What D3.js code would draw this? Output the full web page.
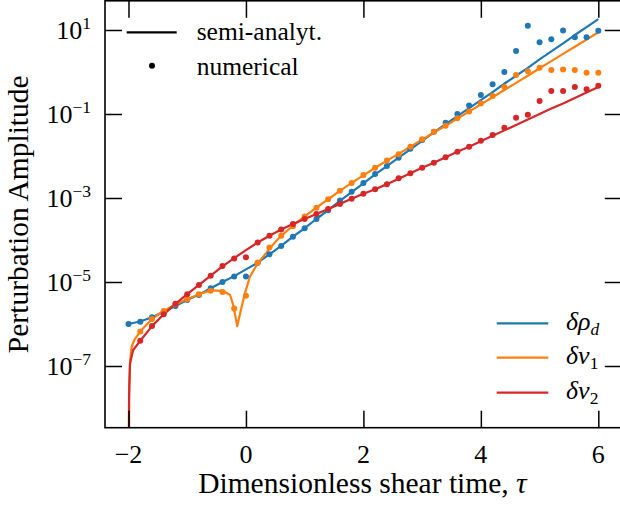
<!DOCTYPE html>
<html>
<head>
<meta charset="utf-8">
<script src="https://cdn.jsdelivr.net/npm/d3@7"></script>
<style>
  html, body { margin: 0; padding: 0; background: #fff; }
  svg { display: block; }
</style>
</head>
<body>
<svg id="chart" width="620" height="509"></svg>
<script>
// ---------- data (log10 of amplitude) ----------
const tauNum = [-2, -1.8, -1.6, -1.4, -1.2, -1, -0.8, -0.6, -0.4, -0.2, 0, 0.2, 0.4, 0.6, 0.8, 1, 1.2, 1.4, 1.6, 1.8,
  2, 2.2, 2.4, 2.6, 2.8, 3, 3.2, 3.4, 3.6, 3.8, 4, 4.2, 4.4, 4.6, 4.8, 5, 5.2, 5.4, 5.6, 5.8, 6];

const rhoNumLog = [-6.00, -5.945, -5.84, -5.71, -5.57, -5.43, -5.31, -5.15, -5.00, -4.87, -4.87, -4.54, -4.34, -4.14, -3.92,
  -3.72, -3.50, -3.29, -3.06, -2.85, -2.64, -2.43, -2.24, -2.04, -1.83, -1.62, -1.42, -1.21, -1.00, -0.80,
  -0.55, -0.29, 0.00, 0.50, 1.10, 0.71, 0.78, 0.99, 0.83, 0.83, 0.98];

const v1NumLog = [null, -6.18, -5.88, -5.69, -5.53, -5.41, -5.29, -5.21, -5.24, -5.63, -5.33, -4.54, -4.18, -3.90, -3.67,
  -3.44, -3.23, -3.03, -2.83, -2.64, -2.45, -2.28, -2.11, -1.96, -1.78, -1.60, -1.42, -1.28, -1.10, -0.94,
  -0.75, -0.57, -0.36, -0.07, 0.02, 0.10, 0.05, 0.06, 0.05, -0.02, -0.02];

const v2NumLog = [null, -6.40, -6.05, -5.77, -5.52, -5.29, -5.07, -4.85, -4.62, -4.44, -4.41, -4.06, -3.90, -3.75, -3.62,
  -3.50, -3.38, -3.26, -3.14, -3.02, -2.90, -2.79, -2.67, -2.53, -2.41, -2.28, -2.16, -2.03, -1.90, -1.78,
  -1.64, -1.50, -1.33, -1.09, -1.02, -0.69, -0.45, -0.45, -0.36, -0.41, -0.33];

// semi-analytic curves
const tauRhoLine = tauNum;
const rhoLineLog = [-6.00, -5.94, -5.84, -5.71, -5.57, -5.43, -5.30, -5.15, -5.00, -4.86, -4.70, -4.54, -4.34, -4.14, -3.92,
  -3.72, -3.50, -3.29, -3.07, -2.86, -2.65, -2.44, -2.24, -2.04, -1.84, -1.64, -1.44, -1.24, -1.05, -0.86,
  -0.67, -0.48, -0.28, -0.09, 0.10, 0.30, 0.49, 0.68, 0.88, 1.07, 1.26];

const tauV1Line = [-2, -1.99, -1.97, -1.946, -1.9, -1.8, -1.6, -1.4, -1.2, -1, -0.8, -0.6, -0.4, -0.27, -0.216, -0.148,
  -0.073, -0.017, 0.068, 0.2, 0.35, 0.4, 0.6, 0.8, 1, 1.2, 1.4, 1.6, 1.8, 2, 2.2, 2.4, 2.6, 2.8, 3, 3.2, 3.4, 3.6,
  3.8, 4, 4.2, 4.4, 4.6, 4.8, 5, 5.2, 5.4, 5.6, 5.8, 6];
const v1LineLog = [-12, -7.5, -6.85, -6.54, -6.38, -6.18, -5.88, -5.69, -5.53, -5.41, -5.29, -5.20, -5.21, -5.31, -5.55, -6.05,
  -5.59, -5.27, -4.87, -4.56, -4.30, -4.20, -3.90, -3.66, -3.44, -3.23, -3.03, -2.83, -2.64, -2.46, -2.28, -2.11,
  -1.95, -1.78, -1.61, -1.44, -1.28, -1.11, -0.94, -0.77, -0.60, -0.43, -0.26, -0.09, 0.09, 0.26, 0.43, 0.60, 0.77, 0.945];

const tauV2Line = [-2, -1.99, -1.975, -1.92, -1.8, -1.6, -1.4, -1.2, -1, -0.8, -0.6, -0.4, -0.2, 0, 0.2, 0.4, 0.6, 0.8, 1,
  1.2, 1.4, 1.6, 1.8, 2, 2.2, 2.4, 2.6, 2.8, 3, 3.2, 3.4, 3.6, 3.8, 4, 4.2, 4.4, 4.6, 4.8, 5, 5.2, 5.4, 5.6, 5.8, 6];
const v2LineLog = [-12, -7.8, -6.94, -6.62, -6.40, -6.05, -5.77, -5.52, -5.29, -5.07, -4.85, -4.63, -4.43, -4.24, -4.06,
  -3.90, -3.75, -3.62, -3.50, -3.38, -3.26, -3.14, -3.02, -2.90, -2.79, -2.67, -2.54, -2.41, -2.28, -2.16, -2.03,
  -1.90, -1.78, -1.65, -1.52, -1.39, -1.26, -1.13, -1.00, -0.87, -0.75, -0.62, -0.49, -0.36];

const xTicks = [-2, 0, 2, 4, 6];
const xTickLabels = ["\u22122", "0", "2", "4", "6"];
const yTickExp = [1, -1, -3, -5, -7];
const yTickLabels = ["1", "\u22121", "\u22123", "\u22125", "\u22127"];

const seriesNames = ["\u03B4\u03C1", "\u03B4v", "\u03B4v"];
const seriesSubs = ["d", "1", "2"];
const colors = ["#1f77b4", "#ff7f0e", "#d62728"];
const legendTopLabels = ["semi-analyt.", "numerical"];
const xLabel = "Dimensionless shear time, ";
const yLabel = "Perturbation Amplitude";

// ---------- layout ----------
const FONT = "'Liberation Serif', 'Times New Roman', serif";
const svg = d3.select("#chart");
const L = 105, R = 621.8, T = 0.8, B = 427.7;

const x = d3.scaleLinear().domain([-2.4, 6.4]).range([L, R]);
const y = d3.scaleLog().domain([Math.pow(10, -8.469), Math.pow(10, 1.695)]).range([B, T]);

svg.append("defs").append("clipPath").attr("id", "clip")
  .append("rect").attr("x", L).attr("y", T).attr("width", R - L).attr("height", B - T);

const plot = svg.append("g").attr("clip-path", "url(#clip)");

const lineGen = d3.line().x(d => x(d[0])).y(d => y(Math.pow(10, d[1])));

const lineSets = [
  [tauRhoLine, rhoLineLog],
  [tauV1Line, v1LineLog],
  [tauV2Line, v2LineLog]
];
const numSets = [rhoNumLog, v1NumLog, v2NumLog];

lineSets.forEach((s, i) => {
  const pts = s[0].map((t, k) => [t, s[1][k]]);
  plot.append("path").datum(pts)
    .attr("d", lineGen)
    .attr("fill", "none")
    .attr("stroke", colors[i])
    .attr("stroke-width", 2.2)
    .attr("stroke-linejoin", "round");
});

numSets.forEach((vals, i) => {
  const pts = tauNum.map((t, k) => [t, vals[k]]).filter(d => d[1] !== null);
  plot.selectAll(null).data(pts).enter().append("circle")
    .attr("cx", d => x(d[0]))
    .attr("cy", d => y(Math.pow(10, d[1])))
    .attr("r", 3)
    .attr("fill", colors[i]);
});

// ---------- axes (inward ticks on all sides) ----------
const tickLen = 17;
const axG = svg.append("g");
const bottomAxis = d3.axisBottom(x).tickValues(xTicks).tickSizeInner(-tickLen).tickSizeOuter(0).tickFormat(() => "");
const topAxis = d3.axisTop(x).tickValues(xTicks).tickSizeInner(-tickLen).tickSizeOuter(0).tickFormat(() => "");
const leftAxis = d3.axisLeft(y).tickValues(yTickExp.map(e => Math.pow(10, e))).tickSizeInner(-tickLen).tickSizeOuter(0).tickFormat(() => "");
const rightAxis = d3.axisRight(y).tickValues(yTickExp.map(e => Math.pow(10, e))).tickSizeInner(-tickLen).tickSizeOuter(0).tickFormat(() => "");

[ [bottomAxis, `translate(0,${B})`], [topAxis, `translate(0,${T})`],
  [leftAxis, `translate(${L},0)`], [rightAxis, `translate(${R},0)`] ].forEach(([ax, tr]) => {
  const g = axG.append("g").attr("transform", tr).call(ax);
  g.select(".domain").remove();
  g.selectAll(".tick line").attr("stroke", "#000").attr("stroke-width", 1.5);
});

svg.append("rect").attr("x", L).attr("y", T).attr("width", R - L).attr("height", B - T)
  .attr("fill", "none").attr("stroke", "#000").attr("stroke-width", 1.6);

const txt = g => g.append("text").style("font-family", FONT).attr("fill", "#000");

// x tick labels
xTicks.forEach((d, i) => {
  txt(svg).attr("x", x(d)).attr("y", 463)
    .attr("text-anchor", "middle")
    .attr("font-size", 26)
    .text(xTickLabels[i]);
});

// y tick labels
yTickExp.forEach((e, i) => {
  const t = txt(svg)
    .attr("x", 91).attr("y", y(Math.pow(10, e)) + 8.7)
    .attr("text-anchor", "end")
    .attr("font-size", 26);
  t.append("tspan").text("10");
  t.append("tspan").attr("dy", -10).attr("font-size", 17.5).text(yTickLabels[i]);
});

// axis labels
const xl = txt(svg)
  .attr("x", (L + R) / 2 - 1).attr("y", 493)
  .attr("text-anchor", "middle")
  .attr("font-size", 29.5);
xl.append("tspan").text(xLabel);
xl.append("tspan").attr("font-style", "italic").text("\u03C4");

txt(svg)
  .attr("transform", `translate(28,${(T + B) / 2}) rotate(-90)`)
  .attr("text-anchor", "middle")
  .attr("font-size", 29.5)
  .text(yLabel);

// ---------- legend top-left ----------
svg.append("line").attr("x1", 126.7).attr("x2", 176.7).attr("y1", 32.3).attr("y2", 32.3)
  .attr("stroke", "#000").attr("stroke-width", 2.2);
svg.append("circle").attr("cx", 152).attr("cy", 65.7).attr("r", 3).attr("fill", "#000");
txt(svg).attr("x", 196.7).attr("y", 39.5).attr("font-size", 25.5).text(legendTopLabels[0]);
txt(svg).attr("x", 196.7).attr("y", 74.5).attr("font-size", 25.5).text(legendTopLabels[1]);

// ---------- legend bottom-right ----------
const legY = [323.3, 357.7, 392.7];
seriesNames.forEach((n, i) => {
  svg.append("line").attr("x1", 496.7).attr("x2", 548.3).attr("y1", legY[i]).attr("y2", legY[i])
    .attr("stroke", colors[i]).attr("stroke-width", 2.2);
  const t = txt(svg).attr("x", 566).attr("y", legY[i] + 6.5)
    .attr("font-size", 26).attr("font-style", "italic");
  t.append("tspan").text(n);
  t.append("tspan").attr("dy", 5).attr("font-size", 17.5)
    .attr("font-style", i === 0 ? "italic" : "normal").text(seriesSubs[i]);
});
</script>
</body>
</html>
